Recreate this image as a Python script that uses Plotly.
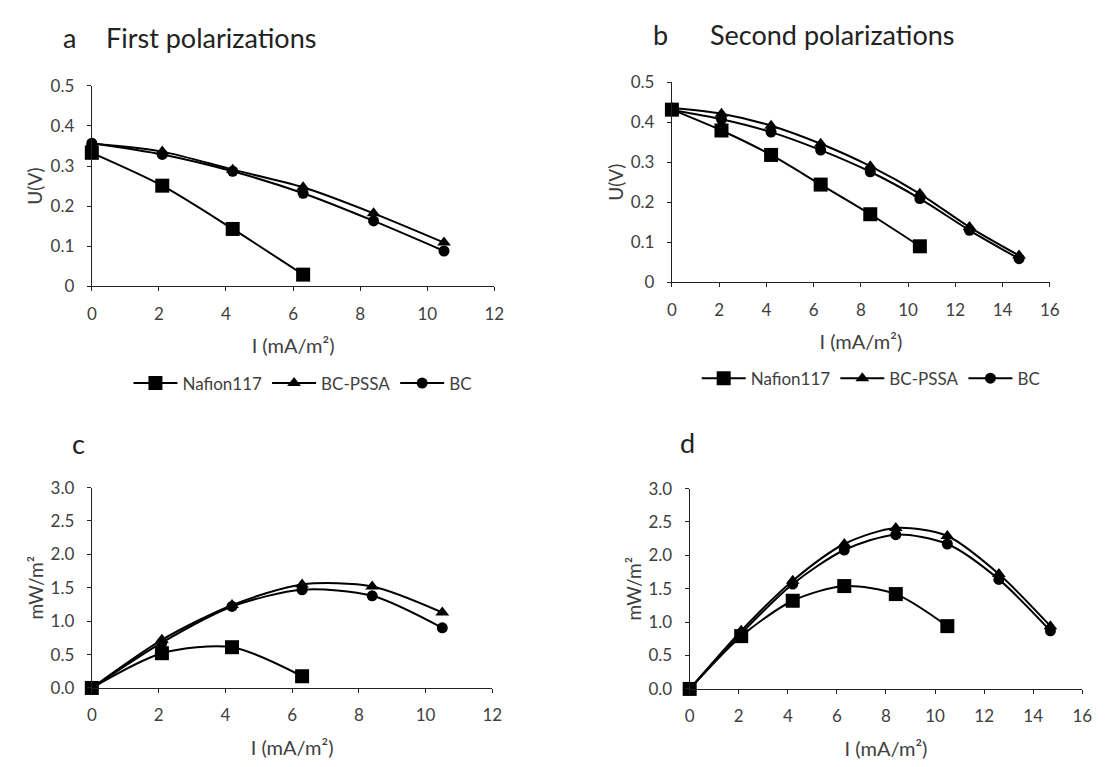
import plotly.graph_objects as go

# ---- data ----
I_first = [0, 2.1, 4.2, 6.3, 8.4, 10.5]
I_second = [0, 2.1, 4.2, 6.3, 8.4, 10.5, 12.6, 14.7]

U1_nafion = [0.333, 0.251, 0.143, 0.029]
U1_pssa = [0.356, 0.336, 0.291, 0.247, 0.182, 0.109]
U1_bc = [0.357, 0.329, 0.287, 0.232, 0.163, 0.088]

U2_nafion = [0.431, 0.379, 0.318, 0.244, 0.170, 0.090]
U2_pssa = [0.435, 0.421, 0.391, 0.346, 0.290, 0.221, 0.138, 0.067]
U2_bc = [0.430, 0.407, 0.375, 0.330, 0.276, 0.209, 0.130, 0.059]

P1_nafion = [0.0, 0.52, 0.61, 0.175]
P1_pssa = [0.0, 0.72, 1.24, 1.55, 1.52, 1.13]
P1_bc = [0.0, 0.68, 1.22, 1.47, 1.38, 0.90]

P2_nafion = [0.0, 0.79, 1.32, 1.54, 1.42, 0.94]
P2_pssa = [0.0, 0.87, 1.62, 2.17, 2.41, 2.29, 1.72, 0.94]
P2_bc = [0.0, 0.83, 1.57, 2.08, 2.31, 2.17, 1.64, 0.87]

series_names = ["Nafion117", "BC-PSSA", "BC"]
panel_titles = ["a", "b", "c", "d"]
headings = ["First polarizations", "Second polarizations"]

FONT = "Lato"
TXT = "#404040"
W, H = 1115, 767

fig = go.Figure()

symbols = {"Nafion117": ("square", 14), "BC-PSSA": ("triangle-up", 12), "BC": ("circle", 11)}


def add(x, y, name, xa, ya, legend=None):
    sym, sz = symbols[name]
    fig.add_trace(go.Scatter(
        x=x[:len(y)], y=y, name=name, mode="lines+markers",
        line=dict(color="black", width=2, shape="spline", smoothing=0.8),
        marker=dict(symbol=sym, size=sz, color="black"),
        xaxis=xa, yaxis=ya, cliponaxis=False,
        showlegend=legend is not None, legend=legend if legend else "legend",
    ))


add(I_first, U1_nafion, series_names[0], "x", "y", "legend")
add(I_first, U1_pssa, series_names[1], "x", "y", "legend")
add(I_first, U1_bc, series_names[2], "x", "y", "legend")
add(I_second, U2_nafion, series_names[0], "x2", "y2", "legend2")
add(I_second, U2_pssa, series_names[1], "x2", "y2", "legend2")
add(I_second, U2_bc, series_names[2], "x2", "y2", "legend2")
add(I_first, P1_nafion, series_names[0], "x3", "y3")
add(I_first, P1_pssa, series_names[1], "x3", "y3")
add(I_first, P1_bc, series_names[2], "x3", "y3")
add(I_second, P2_nafion, series_names[0], "x4", "y4")
add(I_second, P2_pssa, series_names[1], "x4", "y4")
add(I_second, P2_bc, series_names[2], "x4", "y4")


def px_x(a, b):
    return [a / W, b / W]


def px_y(top, bottom):
    return [1 - bottom / H, 1 - top / H]


common = dict(showline=True, linecolor="#222", linewidth=1.2, ticks="outside",
              ticklen=4, tickcolor="#222", showgrid=False, zeroline=False,
              tickfont=dict(family=FONT, size=17, color=TXT), fixedrange=True)
xcommon = dict(common, ticklabelstandoff=8)
ycommon = dict(common, ticklabelstandoff=9)
xt = dict(text="I (mA/m²)", font=dict(family=FONT, size=20, color=TXT), standoff=16)
yfont = dict(family=FONT, size=19, color=TXT)

fig.update_layout(
    width=W, height=H, margin=dict(l=0, r=0, t=0, b=0),
    plot_bgcolor="white", paper_bgcolor="white",
    font=dict(family=FONT, color=TXT),
    xaxis=dict(domain=px_x(88, 496), range=[0, 12], dtick=2, anchor="y", title=xt, **xcommon),
    yaxis=dict(domain=px_y(77, 283), range=[0, 0.5], dtick=0.1, anchor="x",
               title=dict(text="U(V)", font=yfont, standoff=2), **ycommon),
    xaxis2=dict(domain=px_x(676, 1059), range=[0, 16], dtick=2, anchor="y2", title=xt, **xcommon),
    yaxis2=dict(domain=px_y(73, 279), range=[0, 0.5], dtick=0.1, anchor="x2",
                title=dict(text="U(V)", font=yfont, standoff=2), **ycommon),
    xaxis3=dict(domain=px_x(88, 494), range=[0, 12], dtick=2, anchor="y3", title=xt, **xcommon),
    yaxis3=dict(domain=px_y(490, 696), range=[0, 3], dtick=0.5, tickformat=".1f", anchor="x3",
                title=dict(text="mW/m²", font=yfont, standoff=1), **ycommon),
    xaxis4=dict(domain=px_x(694, 1092), range=[0, 16], dtick=2, anchor="y4", title=xt, **xcommon),
    yaxis4=dict(domain=px_y(491, 697), range=[0, 3], dtick=0.5, tickformat=".1f", anchor="x4",
                title=dict(text="mW/m²", font=yfont, standoff=1), **ycommon),
    legend=dict(orientation="h", x=302 / W, xanchor="center", y=1 - 383 / H, yanchor="middle",
                font=dict(family=FONT, size=17, color=TXT), itemwidth=44, traceorder="normal"),
    legend2=dict(orientation="h", x=878 / W, xanchor="center", y=1 - 378 / H, yanchor="middle",
                 font=dict(family=FONT, size=17, color=TXT), itemwidth=44, traceorder="normal"),
)

labels = [
    (57, 27, "a"), (100, 27, headings[0]),
    (655, 24, "b"), (713, 24, headings[1]),
    (66, 445, "c"), (682, 444, "d"),
]
for x, y, t in labels:
    fig.add_annotation(x=x / W, y=1 - y / H, xref="paper", yref="paper", text=t,
                       showarrow=False, xanchor="left", yanchor="middle",
                       font=dict(family=FONT, size=27, color="#222"))

fig.write_html("out.html")
